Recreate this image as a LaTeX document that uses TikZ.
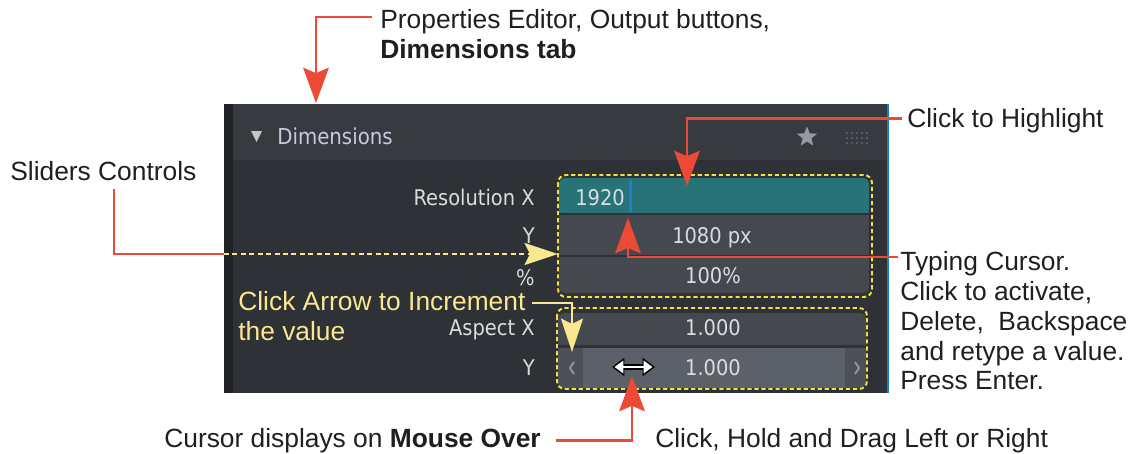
\documentclass[tikz,border=0pt]{standalone}
\usepackage{fontspec}
\setmainfont{Liberation Sans}
\newfontfamily\uifont{DejaVu Sans Condensed}
\usetikzlibrary{arrows.meta,calc,positioning,shapes.geometric}

\definecolor{callred}{RGB}{236,74,54}
\definecolor{callyellow}{RGB}{250,232,145}
\definecolor{boxyellow}{RGB}{246,224,60}
\definecolor{panelbody}{RGB}{46,49,54}
\definecolor{panelhead}{RGB}{55,58,63}
\definecolor{paneledge}{RGB}{33,35,39}
\definecolor{fieldgray}{RGB}{69,72,79}
\definecolor{fieldlight}{RGB}{92,96,104}
\definecolor{fieldend}{RGB}{76,80,87}
\definecolor{fieldteal}{RGB}{39,115,120}
\definecolor{uitext}{RGB}{218,220,224}
\definecolor{uigray}{RGB}{150,154,160}
\definecolor{edgeblue}{RGB}{22,128,200}

\tikzset{
  callout/.style={font=\fontsize{15}{17}\selectfont, text=black!88, align=left, inner sep=0pt},
  uitxt/.style={font=\uifont\fontsize{12.3}{14}\selectfont, text=uitext, inner sep=0pt},
  redline/.style={draw=callred, line width=1.5pt},
  redarrow/.style={redline, -{Stealth[length=20pt,width=14.5pt,inset=3pt]}},
  yellowarrow/.style={draw=callyellow, line width=1.2pt, -{Stealth[length=19pt,width=12.5pt,inset=3pt]}},
  groupbox/.style={draw=boxyellow, line width=1.1pt, dash pattern=on 2.4pt off 1.6pt, rounded corners=4.5pt},
}

\begin{document}
\begin{tikzpicture}[x=0.02cm,y=-0.02cm]
  \useasboundingbox (0,0) rectangle (1139,453);

  % Screenshot of the panel
  \fill[panelbody] (224,104) rectangle (889,393);
  \fill[panelhead] (233,104) rectangle (887,160);
  \fill[paneledge] (224,104) rectangle (233,393);
  \draw[edgeblue, line width=1.2pt] (888,104) -- (888,393);

  % Header row
  \fill[uitext!90!black] (251,131) -- (262,131) -- (256.5,142) -- cycle;
  \node[uitxt, anchor=base west, font=\uifont\fontsize{12.5}{14}\selectfont, text=uitext!92!blue] (head) at (277,144) {Dimensions};
  \node[star, star points=5, star point ratio=2.3, fill=uigray, inner sep=0pt, minimum size=12pt] (fav) at (807,137) {};
  \foreach \i in {0,...,4}
    \foreach \j in {0,1,2}
      \fill[uigray!80!black] (847+\i*5,133+\j*5) circle (0.55pt);

  % Resolution fields
  \fill[fieldteal, rounded corners=3.5pt] (559,178) rectangle (869,213);
  \fill[fieldteal] (559,195) rectangle (869,213);
  \fill[fieldgray] (559,215) rectangle (869,255);
  \fill[fieldgray, rounded corners=3.5pt] (559,257) rectangle (869,293);
  \fill[fieldgray] (559,257) rectangle (869,275);
  \fill[edgeblue] (629,180) rectangle (632,212);

  % Aspect fields
  \fill[fieldgray, rounded corners=3.5pt] (558,313) rectangle (866,345);
  \fill[fieldgray] (558,330) rectangle (866,345);
  \fill[fieldend, rounded corners=3.5pt] (558,348) rectangle (866,388);
  \fill[fieldend] (558,348) rectangle (866,368);
  \fill[fieldlight] (583,348) rectangle (845,388);
  \draw[uigray, line width=1pt] (574,362) -- (570,368) -- (574,374);
  \draw[uigray, line width=1pt] (855,362) -- (859,368) -- (855,374);

  % Row labels and values
  \node[uitxt, anchor=base east] (resX) at (535,205) {Resolution X};
  \node[uitxt, anchor=base east] (resY) at (535,243) {Y};
  \node[uitxt, anchor=base east] (resP) at (535,285) {\%};
  \node[uitxt, anchor=base east] (aspX) at (535,335) {Aspect X};
  \node[uitxt, anchor=base east] (aspY) at (535,375) {Y};
  \node[uitxt, anchor=base west] (valX) at (575,205) {1920};
  \node[uitxt, anchor=base] (valY) at (712,243) {1080 px};
  \node[uitxt, anchor=base] (valP) at (713,283) {100\%};
  \node[uitxt, anchor=base] (valAX) at (713,335) {1.000};
  \node[uitxt, anchor=base] (valAY) at (713,375) {1.000};

  % Drag cursor
  \draw[black, line width=3pt, {Triangle[length=7pt,width=10pt]}-{Triangle[length=7pt,width=10pt]}] (612,367) -- (655,367);
  \draw[white, line width=1.3pt, {Triangle[length=5pt,width=7pt]}-{Triangle[length=5pt,width=7pt]}] (614.5,367) -- (652.5,367);

  % Dashed groups
  \draw[groupbox] (558,175) rectangle (872,297);
  \draw[groupbox] (557,308) rectangle (867,389);

  % Callout texts
  \node[callout, anchor=north west] (propTxt) at (380,9) {Properties Editor, Output buttons,\\\textbf{Dimensions tab}};
  \node[callout, anchor=base west] (hlTxt) at (907,127) {Click to Highlight};
  \node[callout, anchor=base west] (sliderTxt) at (10,180) {Sliders Controls};
  \node[callout, anchor=north west] (typeTxt) at (900,251) {Typing Cursor.\\Click to activate,\\Delete,\ \ Backspace\\and retype a value.\\Press Enter.};
  \node[callout, anchor=north west, text=callyellow] (incTxt) at (238,291) {Click Arrow to Increment\\the value};
  \node[callout, anchor=base west] (mouseTxt) at (164,447) {Cursor displays on \textbf{Mouse Over}};
  \node[callout, anchor=base west] (dragTxt) at (655,447) {Click, Hold and Drag Left or Right};

  % Targets in the screenshot
  \coordinate (propTip) at (316,103);
  \coordinate (hlTip) at (687,186);
  \coordinate (panelIn) at (224,254);
  \coordinate (sliderTip) at (558,254);
  \coordinate (cursorTip) at (628,218);
  \coordinate (incTip) at (572,352);
  \coordinate (mouseTip) at (632,376);

  % Connectors
  \draw[redarrow] ($(propTxt.north west)+(-8,8)$) -| (propTip);
  \draw[redarrow] ($(hlTxt.west)+(-5,-2)$) -| (hlTip);
  \draw[redline] ($(sliderTxt.south west)+(104,8)$) |- (panelIn);
  \draw[yellowarrow, dash pattern=on 2.8pt off 2pt] (panelIn) -- (sliderTip);
  \draw[redarrow] ($(typeTxt.north west)+(-2,6)$) -| (cursorTip);
  \draw[yellowarrow] ($(incTxt.north east)+(6,12)$) -| (incTip);
  \draw[redarrow] ($(mouseTxt.east)+(15,0)$) -| (mouseTip);
\end{tikzpicture}
\end{document}
